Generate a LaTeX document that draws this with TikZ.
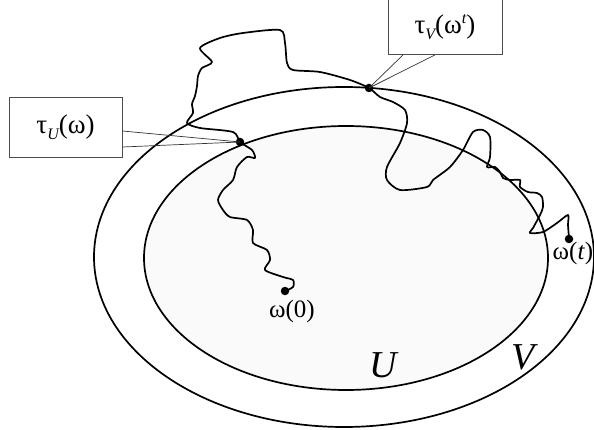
\documentclass[tikz,border=0pt]{standalone}
\usepackage{fontspec}
\setmainfont{Liberation Serif}
\usetikzlibrary{calc}
\newcommand{\subU}[1]{\raisebox{-0.5ex}{\fontsize{16}{16}\selectfont\itshape #1}}
\newcommand{\supT}[1]{\raisebox{0.75ex}{\fontsize{16}{16}\selectfont\itshape #1}}
\begin{document}
\begin{tikzpicture}[x=1pt,y=-1pt,
  region/.style={line width=1.7pt},
  walk/.style={line width=1.7pt,line join=round,line cap=round},
  dotmark/.style={circle,fill=black,inner sep=0pt,minimum size=8.5pt},
  labelbox/.style={draw=black!70,fill=white,line width=0.9pt,inner sep=0pt,font=\fontsize{27}{27}\selectfont},
  pointer/.style={draw=black!80,line width=0.7pt},
  setlabel/.style={font=\fontsize{38}{38}\selectfont\itshape},
  ptlabel/.style={font=\fontsize{25}{25}\selectfont}]
\useasboundingbox (0,0) rectangle (594,430);
% regions
\draw[region] (344,257) ellipse [x radius=250, y radius=170];
\draw[region,fill=black!2] (346,258) ellipse [x radius=202, y radius=132];
\node[setlabel] (U) at (383,365) {U};
\node[setlabel] (V) at (523,357) {V};
% path
\draw[walk] plot[smooth,tension=0.45] coordinates {
(285,291) (293,287) (293,280) (283,277) (265,270) (270,260) (267,250) (253,243)
(253,230) (247,220) (230,217) (223,210) (218,200) (223,190) (233,180) (237,167)
(247,157) (255,158) (252,150) (240,142) (233,132) (200,128) (187,123) (193,113)
(192,104) (195,96) (197,86) (198,76) (202,68) (212,62) (200,48) (220,38) (243,33)
(280,30) (285,43) (287,63) (293,70) (320,72) (350,80) (369,88) (380,97) (393,102)
(405,110) (407,123) (400,143) (387,167) (387,180) (400,190) (427,187) (433,180)
(450,167) (463,150) (473,132) (483,130) (490,137) (490,157) (487,167) (495,167)
(500,172) (503,178) (510,180) (520,180) (520,187) (528,192) (537,193) (542,197)
(543,207) (540,215) (533,228) (530,233) (543,232) (557,223) (568,215) (568,225)
(569,238)};
% points
\node[dotmark] (w0) at (285,291) {};
\node[dotmark] (wt) at (569,239) {};
\node[dotmark] (tu) at (240,142) {};
\node[dotmark] (tv) at (369,88) {};
\node[ptlabel] (w0l) at (292,311) {ω(0)};
\node[ptlabel] (wtl) at (573,253) {ω(\textit{t})};
% boxes
\node[labelbox,minimum width=113pt,minimum height=60pt] (bu) at (65.5,127) {τ\subU{U}(ω)};
\node[labelbox,minimum width=114pt,minimum height=55pt] (bv) at (445,27) {τ\subU{V}(ω\supT{t})};
\draw[pointer] ([yshift=-4pt]bu.east) -- (tu.center);
\draw[pointer] ([yshift=-20pt]bu.east) -- (tu.center);
\draw[pointer] ([xshift=-42pt]bv.south) -- (tv.center);
\draw[pointer] ([xshift=-10pt]bv.south) -- (tv.center);
\end{tikzpicture}
\end{document}
